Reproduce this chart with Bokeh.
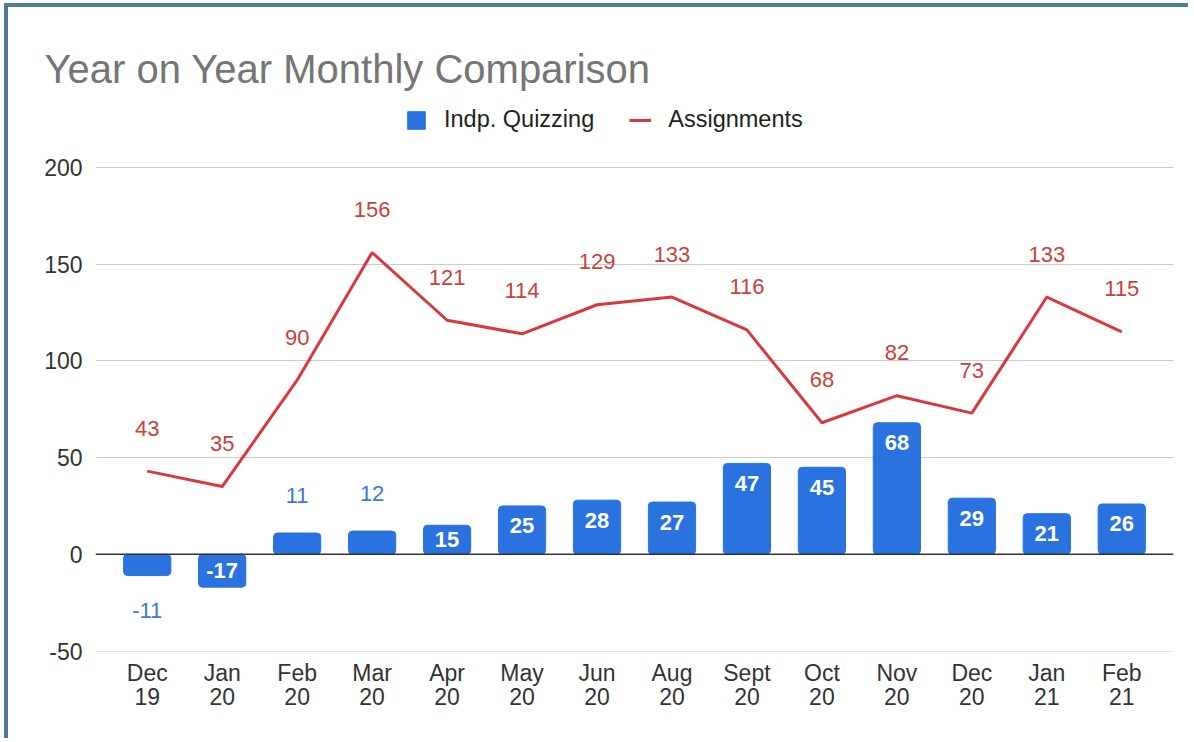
from bokeh.plotting import figure
from bokeh.models import (ColumnDataSource, FactorRange, Range1d, FixedTicker, Legend,
                          LegendItem, Span)
from bokeh.core.properties import value
from bokeh.embed import file_html
from bokeh.resources import INLINE

# ---- data ----
months = ["Dec\n19", "Jan\n20", "Feb\n20", "Mar\n20", "Apr\n20", "May\n20", "Jun\n20",
          "Aug\n20", "Sept\n20", "Oct\n20", "Nov\n20", "Dec\n20", "Jan\n21", "Feb\n21"]
quizzing = [-11, -17, 11, 12, 15, 25, 28, 27, 47, 45, 68, 29, 21, 26]
assignments = [43, 35, 90, 156, 121, 114, 129, 133, 116, 68, 82, 73, 133, 115]
y_ticks = [-50, 0, 50, 100, 150, 200]
y_tick_labels = {t: str(t) for t in y_ticks}

FONT = "Liberation Sans"
BLUE = "#2a72e0"
RED = "#d9383e"

W, H = 1184, 735
MB_L, MB_R, MB_T, MB_B = 87, 19, 95, 91
PX_PER_UNIT = 484 / 250.0          # 200 -> -50 spans 484 px
Y_END = 200 + (160 - MB_T) / PX_PER_UNIT   # leave room for the legend above 200
Y_START = -50 - 0.5 / PX_PER_UNIT

p = figure(width=W, height=H, output_backend="svg", toolbar_location=None,
           x_range=FactorRange(factors=months, range_padding=0.19,
                               range_padding_units="absolute"),
           y_range=Range1d(Y_START, Y_END),
           min_border_left=MB_L, min_border_right=MB_R, min_border_top=MB_T,
           min_border_bottom=MB_B)
p.margin = (3, 0, 0, 4)
p.styles = {"border-top": "4px solid #507a8e", "border-left": "4px solid #507a8e"}

p.title.text = "Year on Year Monthly Comparison"
p.title.text_font = FONT
p.title.text_font_size = "40px"
p.title.text_font_style = "normal"
p.title.text_color = "#757575"
p.title.align = "left"
p.title.offset = -51
p.title.standoff = 24

p.outline_line_color = None
p.xgrid.grid_line_color = None
p.ygrid.grid_line_color = "#cccccc"
p.ygrid.grid_line_width = 1

for ax in (p.xaxis[0], p.yaxis[0]):
    ax.axis_line_color = None
    ax.major_tick_line_color = None
    ax.minor_tick_line_color = None
    ax.major_tick_out = 0
    ax.major_tick_in = 0
    ax.minor_tick_out = 0
    ax.major_label_text_font = FONT
    ax.major_label_text_font_size = "23px"
    ax.major_label_text_color = "#333333"
p.yaxis[0].ticker = FixedTicker(ticks=y_ticks)
p.yaxis[0].major_label_overrides = y_tick_labels
p.yaxis[0].major_label_standoff = 13
p.xaxis[0].major_label_standoff = 8
p.xaxis[0].major_label_text_line_height = 0.95

src = ColumnDataSource(dict(m=months, q=quizzing, a=assignments))
bars = p.vbar(x="m", top="q", width=0.63, source=src, color=BLUE, border_radius=4)
p.add_layout(Span(location=0, dimension="width", line_color="#333333", line_width=1.5))
line = p.line(x="m", y="a", source=src, line_color=RED, line_width=3)

# bar labels: inside near end for tall bars, centred for medium, outside for short
in_x, in_y, in_t, in_off = [], [], [], []
out_x, out_y, out_t, out_off = [], [], [], []
for m, v in zip(months, quizzing):
    if abs(v) >= 20:
        in_x.append(m); in_y.append(v); in_t.append(str(v))
        in_off.append(20 if v > 0 else -20)
    elif abs(v) >= 14:
        in_x.append(m); in_y.append(v / 2); in_t.append(str(v)); in_off.append(0)
    else:
        out_x.append(m); out_y.append(v); out_t.append(str(v))
        out_off.append(-38 if v > 0 else 35)

p.text(x=in_x, y=in_y, text=in_t, y_offset=in_off, text_align="center",
       text_baseline="middle", text_color="white", text_font=value(FONT),
       text_font_size="22px", text_font_style="bold")
p.text(x=out_x, y=out_y, text=out_t, y_offset=out_off, text_align="center",
       text_baseline="middle", text_color="#3c78d0", text_font=value(FONT),
       text_font_size="22px")
p.text(x=months, y=assignments, text=[str(v) for v in assignments], y_offset=-43,
       text_align="center", text_baseline="middle", text_color="#c8423a",
       text_font=value(FONT), text_font_size="22px")

legend = Legend(items=[LegendItem(label="Indp. Quizzing", renderers=[bars]),
                       LegendItem(label="Assignments", renderers=[line])],
                orientation="horizontal", location=(310, H - MB_B - 126),
                label_text_font=FONT, label_text_font_size="23.5px",
                label_text_color="#222222", glyph_width=22, glyph_height=22,
                label_standoff=17, spacing=35, border_line_color=None,
                background_fill_alpha=0, padding=4, margin=0)
p.add_layout(legend, "center")

open("out.html", "w").write(file_html(p, INLINE))
